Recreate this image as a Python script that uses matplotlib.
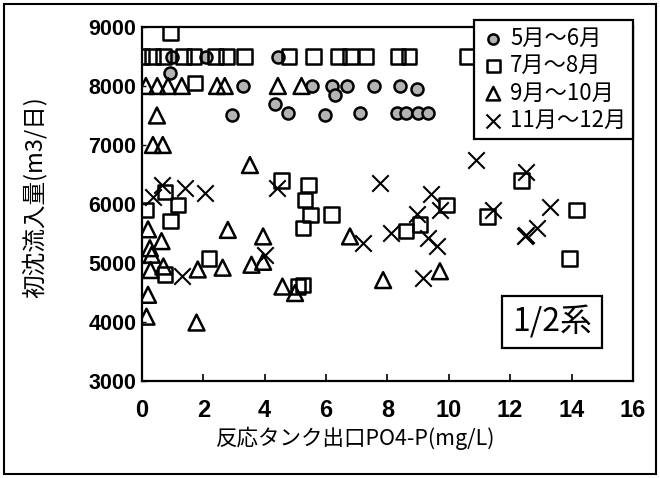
import numpy as np
import matplotlib as mpl
mpl.use('agg')
import matplotlib.pyplot as plt
from matplotlib.patches import Rectangle

plt.rcParams['font.family'] = ['Liberation Sans', 'Noto Sans CJK JP']

# 5月～6月 (circles)
may_x = [0.9, 0.97, 2.1, 3.3, 2.93, 4.33, 4.43, 4.77, 5.53, 5.96, 6.18, 6.29, 6.67,
         7.1, 7.55, 8.4, 8.95, 8.3, 8.62, 8.99, 9.32]
may_y = [8220, 8500, 8500, 8000, 7500, 7700, 8500, 7550, 8000, 7500, 8000, 7850, 8000,
         7550, 8000, 8000, 7950, 7550, 7550, 7550, 7550]

# 7月～8月 (squares)
jul_x = [0.94, 0.0, 0.35, 0.7, 1.35, 1.7, 2.4, 2.75, 3.35, 4.8, 5.6, 6.4, 6.8, 7.3, 8.35, 8.7, 10.6,
         1.73, 0.75, 1.18, 0.13, 0.93, 4.55, 2.18, 0.75, 5.08,
         5.42, 5.31, 5.5, 5.25, 6.18, 8.6, 9.06, 9.93, 5.25, 11.27, 12.37, 14.16, 13.94]
jul_y = [8900, 8500, 8500, 8500, 8500, 8500, 8500, 8500, 8500, 8500, 8500, 8500, 8500, 8500, 8500, 8500, 8500,
         8050, 6200, 5980, 5900, 5710, 6400, 5080, 4800, 4600,
         6320, 6070, 5810, 5590, 5820, 5540, 5650, 5980, 4630, 5790, 6400, 5900, 5080]

# 9月～10月 (triangles)
sep_x = [0.13, 0.5, 0.85, 1.3, 2.45, 2.7, 4.43, 5.2, 0.49, 0.36, 0.68,
         3.52, 2.8, 0.2, 0.64, 0.26, 0.32, 3.95, 0.28, 0.7, 1.82, 2.63, 3.57, 3.95,
         4.58, 4.99, 0.2, 0.15, 1.78, 6.78, 7.86, 9.71]
sep_y = [8000, 8000, 8000, 8000, 8000, 8000, 8000, 8000, 7500, 7000, 7000,
         6660, 5560, 5570, 5370, 5250, 5140, 5450, 4880, 4940, 4890, 4920, 4970, 5020,
         4600, 4490, 4460, 4090, 3990, 5450, 4710, 4860]

# 11月～12月 (crosses)
nov_x = [0.64, 0.36, 1.42, 2.06, 4.39, 1.32, 4.0, 7.19, 7.75, 8.13, 8.95, 9.43, 9.71,
         9.33, 9.6, 9.16, 10.87, 12.53, 11.44, 13.29, 12.47, 12.52, 12.87]
nov_y = [6320, 6120, 6270, 6190, 6270, 4780, 5140, 5340, 6350, 5510, 5830, 6170, 5900,
         5430, 5280, 4740, 6750, 6540, 5890, 5950, 5460, 5480, 5590]

labels = ['5月～6月', '7月～8月', '9月～10月', '11月～12月']

fig = plt.figure(figsize=(6.6, 4.78), dpi=100)
ax = fig.add_axes([0.215, 0.203, 0.744, 0.7405])

ax.scatter(may_x, may_y, marker='o', s=75, facecolors='#b4b4b4', edgecolors='black',
           linewidths=1.8, label=labels[0], zorder=3)
ax.scatter(jul_x, jul_y, marker='s', s=110, facecolors='none', edgecolors='black',
           linewidths=1.8, label=labels[1], zorder=3)
ax.scatter(sep_x, sep_y, marker='^', s=130, facecolors='none', edgecolors='black',
           linewidths=1.8, label=labels[2], zorder=3)
ax.scatter(nov_x, nov_y, marker='x', s=140, color='black', linewidths=1.5,
           label=labels[3], zorder=3)

ax.set_xlim(0, 16)
ax.set_ylim(3000, 9000)
ax.set_xticks(np.arange(0, 17, 2))
ax.set_yticks(np.arange(3000, 9001, 1000))
ax.tick_params(axis='x', direction='in', length=5, width=1.2, pad=13, labelsize=17)
ax.tick_params(axis='y', direction='in', length=3, width=1.0, pad=4, labelsize=15.5)
for lab in ax.get_xticklabels() + ax.get_yticklabels():
    lab.set_fontweight('bold')
for sp in ax.spines.values():
    sp.set_linewidth(1.6)

ax.set_xlabel('反応タンク出口PO4-P(mg/L)', family=['Noto Sans CJK JP'], fontsize=15.5, labelpad=3, x=0.435)
ax.set_ylabel('初沈流入量(m3/日)', family=['Noto Sans CJK JP'], fontsize=17, labelpad=30, y=0.52)

leg = ax.legend(loc='upper right', bbox_to_anchor=(1.0, 1.02), prop={'family': ['Noto Sans CJK JP'], 'size': 16},
                fancybox=False, framealpha=1, edgecolor='black', borderpad=0.3, labelspacing=0.2,
                handletextpad=0.2, handlelength=1.1, borderaxespad=0, markerscale=0.85)
leg.get_frame().set_linewidth(1.6)

ax.text(0.835, 0.167, '1/2系', transform=ax.transAxes, ha='center', va='center',
        family=['Noto Sans CJK JP'], fontsize=23,
        bbox=dict(boxstyle='square,pad=0.3', facecolor='white', edgecolor='black', linewidth=1.6))

fig.patches.append(Rectangle((0.006, 0.008), 0.988, 0.984, transform=fig.transFigure,
                             fill=False, edgecolor='black', linewidth=1.5))

fig.savefig('out.png', dpi=100)
